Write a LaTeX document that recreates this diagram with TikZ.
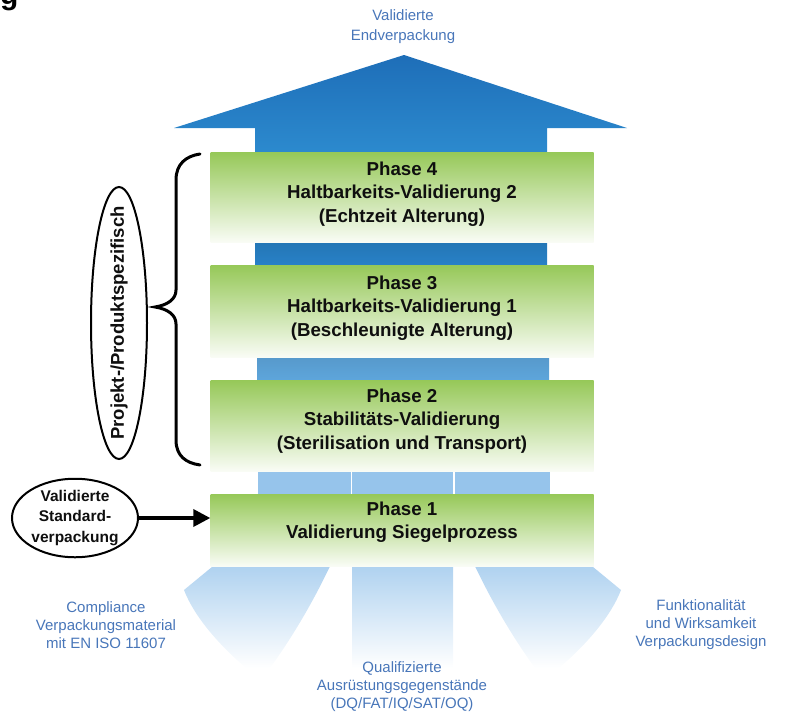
\documentclass[tikz,border=0pt]{standalone}
\usepackage{fontspec}
\setmainfont{Liberation Sans}
\usetikzlibrary{arrows.meta,shapes.geometric}

\definecolor{phgreen}{RGB}{150,200,88}
\definecolor{phfade}{RGB}{249,252,245}
\definecolor{arrowtop}{RGB}{30,110,184}
\definecolor{arrowbot}{RGB}{44,138,206}
\definecolor{linkA}{RGB}{40,130,200}
\definecolor{linkB}{RGB}{94,166,220}
\definecolor{linkC}{RGB}{150,196,235}
\definecolor{fanblue}{RGB}{172,208,239}
\definecolor{labelblue}{RGB}{72,118,185}
\definecolor{ink}{RGB}{15,15,15}

\begin{document}
\begin{tikzpicture}[x=1pt,y=-1pt,
  phasebox/.style={rectangle, minimum width=383pt, inner sep=0pt, draw=none,
    top color=phgreen, bottom color=phfade},
  phasetext/.style={align=center, inner sep=0pt, text=ink,
    font=\fontsize{18.7}{23.5}\selectfont\bfseries},
  bluelabel/.style={align=center, inner sep=0pt, text=labelblue,
    font=\fontsize{15}{18}\selectfont},
  linkbar/.style={draw=none},
  fan/.style={top color=fanblue, bottom color=white, draw=none},
  outline/.style={draw=black, line width=2pt}
]
\useasboundingbox (0,0) rectangle (787,715);

% remnant of the heading above
\begin{scope}
  \clip (0,0) rectangle (787,715);
  \node[anchor=base west, inner sep=0pt, font=\fontsize{30}{30}\selectfont\bfseries] (hd) at (0,4) {g};
\end{scope}

% result label and the big arrow
\node[bluelabel, font=\fontsize{15}{20}\selectfont] (res) at (403,27) {Validierte\\Endverpackung};
\shade[top color=arrowtop, bottom color=arrowbot]
  (255,153) -- (255,128) -- (174,128) -- (404,55) -- (627,128) -- (547,128) -- (547,153) -- cycle;

% bars between the phases
\shade[linkbar, top color=linkA!90!black, bottom color=linkA] (255,241) rectangle (547,266);
\shade[linkbar, top color=linkB!92!black, bottom color=linkB] (257,356) rectangle (549,381);
\fill[linkC] (258,470) rectangle (350.5,495);
\fill[linkC] (352,470) rectangle (453,495);
\fill[linkC] (454.5,470) rectangle (550,495);

% three supporting fans below phase 1
\shade[fan] (218,562) -- (332,562) .. controls (316,596) and (296,632) .. (270,668)
  -- (246,668) .. controls (218,644) and (194,616) .. (184,590) -- cycle;
\shade[fan] (352,562) rectangle (453,668);
\shade[fan] (587,562) -- (473,562) .. controls (489,596) and (509,632) .. (535,668)
  -- (559,668) .. controls (587,644) and (611,616) .. (621,590) -- cycle;

% phase boxes
\node[phasebox, minimum height=90pt] (p4) at (402,197) {};
\node[phasebox, minimum height=92pt] (p3) at (402,311) {};
\node[phasebox, minimum height=91pt] (p2) at (402,425.5) {};
\node[phasebox, minimum height=72pt] (p1) at (402,530) {};

\node[phasetext] (p4t) at (402,194) {Phase 4\\Haltbarkeits-Validierung 2\\(Echtzeit Alterung)};
\node[phasetext] (p3t) at (402,308) {Phase 3\\Haltbarkeits-Validierung 1\\(Beschleunigte Alterung)};
\node[phasetext] (p2t) at (402,421) {Phase 2\\Stabilitäts-Validierung\\(Sterilisation und Transport)};
\node[phasetext] (p1t) at (402,522) {Phase 1\\Validierung Siegelprozess};

% project specific bracket
\draw[line width=3pt, line cap=round]
  (200,154) .. controls (186,156) and (176,164) .. (176,180) -- (176,290)
  .. controls (176,299) and (168,305) .. (155,307)
  .. controls (168,309) and (176,315) .. (176,324) -- (176,440)
  .. controls (176,456) and (186,463) .. (200,465);
\node[ellipse, outline, minimum width=56pt, minimum height=272pt, inner sep=0pt] (pe) at (119,323) {};
\node[rotate=90, inner sep=0pt, text=ink, font=\fontsize{18.5}{20}\selectfont\bfseries] (pet) at (pe.center) {Projekt-/Produktspezifisch};

% standard packaging input
\node[ellipse, outline, minimum width=126pt, minimum height=78pt, inner sep=0pt, align=center,
  text=ink, font=\fontsize{15.5}{20.5}\selectfont\bfseries] (std) at (75,518) {Validierte\\Standard-\\verpackung};
\draw[line width=3.5pt, -{Triangle[length=17pt,width=17pt]}] (std.east) -- (p1.west |- std.east);

% foundations
\node[bluelabel] (fl) at (106,625) {Compliance\\Verpackungsmaterial\\mit EN ISO 11607};
\node[bluelabel] (fm) at (402,687) {Qualifizierte\\Ausrüstungsgegenstände\\(DQ/FAT/IQ/SAT/OQ)};
\node[bluelabel] (fr) at (701,625) {Funktionalität\\und Wirksamkeit\\Verpackungsdesign};
\end{tikzpicture}
\end{document}
